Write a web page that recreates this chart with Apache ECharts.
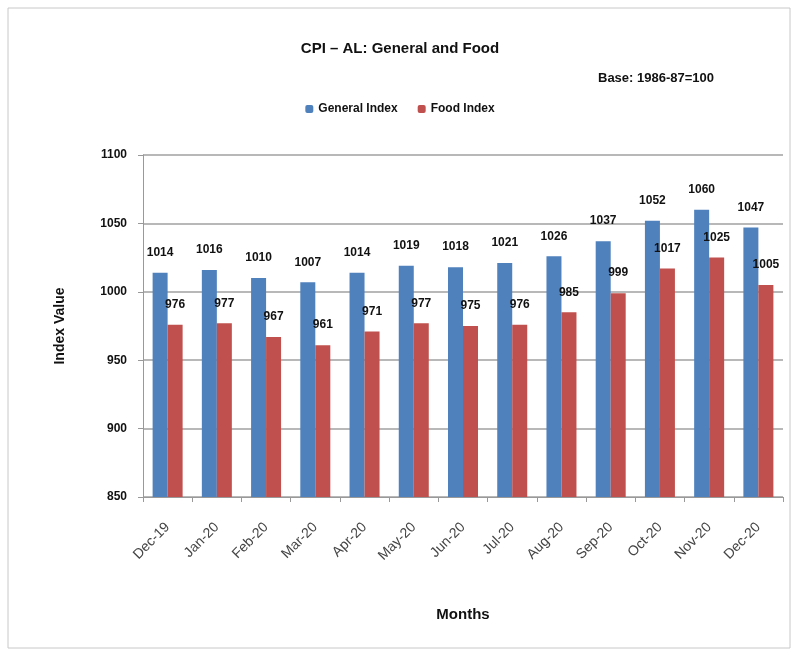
<!DOCTYPE html>
<html><head><meta charset="utf-8">
<script src="https://cdn.jsdelivr.net/npm/echarts@6/dist/echarts.min.js"></script>
<style>html,body{margin:0;padding:0;background:#fff}#c{width:800px;height:658px}</style>
</head><body><div id="c"></div>
<script>
const categories = ['Dec-19','Jan-20','Feb-20','Mar-20','Apr-20','May-20','Jun-20','Jul-20','Aug-20','Sep-20','Oct-20','Nov-20','Dec-20'];
const generalIndex = [1014,1016,1010,1007,1014,1019,1018,1021,1026,1037,1052,1060,1047];
const foodIndex = [976,977,967,961,971,977,975,976,985,999,1017,1025,1005];
const yTicks = {min: 850, max: 1100, interval: 50};

const chart = echarts.init(document.getElementById('c'));
const font = 'Liberation Sans, Arial, sans-serif';
chart.setOption({
  animation: false,
  backgroundColor: '#fff',
  graphic: [{type:'rect', shape:{x:8,y:8,width:782,height:640}, style:{fill:'none', stroke:'#c8c8c8', lineWidth:1}},
    {type:'text', left: 598, top: 72, style:{text:'Base: 1986-87=100', font:'bold 13px ' + font, fill:'#111'}}],
  title: {text: 'CPI – AL: General and Food', left: 'center', top: 36,
    textStyle: {fontFamily: font, fontSize: 15, fontWeight: 'bold', color: '#111'}},
  legend: {top: 98, left: 'center', itemWidth: 8, itemHeight: 8, itemGap: 20,
    textStyle: {fontFamily: font, fontSize: 12, fontWeight: 'bold', color: '#111'}},
  grid: {left: 143, right: 17, top: 155, bottom: 161},
  xAxis: {type: 'category', data: categories, name: 'Months', nameLocation: 'middle', nameGap: 110,
    nameTextStyle: {fontFamily: font, fontSize: 15, fontWeight: 'bold', color: '#111'},
    axisLine: {lineStyle: {color: '#999'}}, axisTick: {show: true, length: 5, lineStyle: {color: '#999'}},
    axisLabel: {rotate: 45, fontFamily: font, fontSize: 14, color: '#444', margin: 28}},
  yAxis: {type: 'value', min: yTicks.min, max: yTicks.max, interval: yTicks.interval,
    name: 'Index Value', nameLocation: 'middle', nameGap: 76, nameRotate: 90,
    nameTextStyle: {fontFamily: font, fontSize: 14, fontWeight: 'bold', color: '#111'},
    axisLine: {show: true, lineStyle: {color: '#999'}}, axisTick: {show: true, length: 5, lineStyle: {color: '#999'}},
    splitLine: {lineStyle: {color: '#a0a0a0', width: 1.5}},
    axisLabel: {fontFamily: font, fontSize: 12, fontWeight: 'bold', color: '#111', margin: 16, formatter: v => String(v)}},
  series: [
    {name: 'General Index', type: 'bar', data: generalIndex, barWidth: 15, barGap: '0%',
     itemStyle: {color: '#4F81BD'},
     label: {show: true, position: 'top', distance: 14, fontFamily: font, fontSize: 12, fontWeight: 'bold', color: '#111'}},
    {name: 'Food Index', type: 'bar', data: foodIndex, barWidth: 15,
     itemStyle: {color: '#C0504D'},
     label: {show: true, position: 'top', distance: 14, fontFamily: font, fontSize: 12, fontWeight: 'bold', color: '#111'}}
  ]
});
</script></body></html>
